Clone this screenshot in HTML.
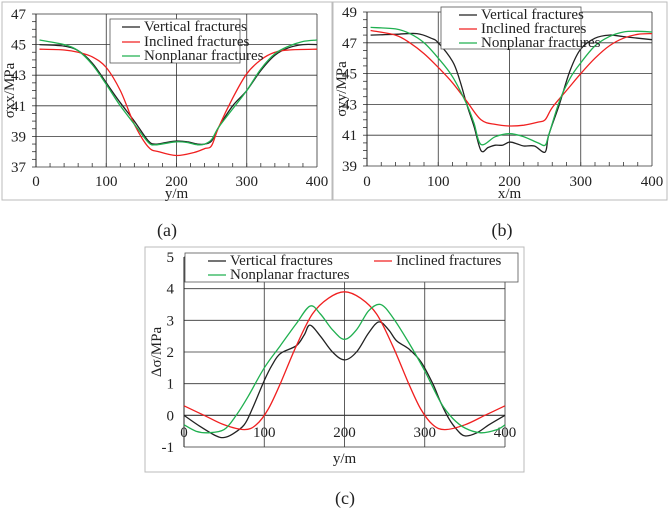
<!DOCTYPE html>
<html><head><meta charset="utf-8"><style>
html,body{margin:0;padding:0;background:#fff;}
svg, svg text{font-family:"Liberation Serif","DejaVu Serif",serif;}
svg text{fill:#222;}
</style></head><body>
<svg id="fig" width="669" height="509" viewBox="0 0 669 509" xmlns="http://www.w3.org/2000/svg" font-family="Liberation Serif, DejaVu Serif, serif">
<rect x="2" y="2" width="330" height="198" fill="#fff" stroke="#bbb"/>
<rect x="333" y="2" width="334" height="198" fill="#fff" stroke="#bbb"/>
<rect x="145" y="247" width="379" height="225" fill="#fff" stroke="#bbb"/>
<text x="167" y="236" font-size="18" text-anchor="middle">(a)</text>
<text x="502" y="236" font-size="18" text-anchor="middle">(b)</text>
<text x="345" y="504" font-size="18" text-anchor="middle">(c)</text>
</svg>
<script>
// Panel (a) data
const aX_black=[5,40,60,80,100,120,140,160,170,185,200,215,230,240,250,260,280,300,320,340,360,380,400];
const aY_black=[45.0,44.9,44.6,43.8,42.5,41.2,40.0,38.7,38.5,38.6,38.7,38.65,38.5,38.5,38.7,39.6,41.0,42.0,43.3,44.3,44.8,45.0,45.0];
const aX_red=[5,40,60,80,100,120,140,160,175,200,225,240,250,260,280,300,320,340,360,400];
const aY_red=[44.7,44.65,44.5,44.2,43.5,42.0,39.8,38.3,38.0,37.75,37.95,38.2,38.4,39.6,41.5,43.1,44.0,44.5,44.65,44.7];
const aX_green=[5,40,60,80,100,120,140,160,170,185,200,215,230,240,250,260,280,300,320,340,360,380,400];
const aY_green=[45.3,45.0,44.6,43.7,42.4,41.0,39.8,38.6,38.45,38.55,38.65,38.6,38.45,38.5,38.8,39.6,40.8,42.0,43.4,44.4,44.9,45.2,45.3];
const aYTicks=[37,39,41,43,45,47];
// Panel (b) data
const bX_black=[5,40,70,90,100,120,130,140,150,160,170,180,190,200,210,220,235,250,255,270,285,300,320,340,360,400];
const bY_black=[47.5,47.55,47.6,47.3,47.0,45.8,44.6,43.0,41.6,40.0,40.2,40.35,40.35,40.55,40.45,40.3,40.3,39.9,41.0,43.0,45.2,46.6,47.3,47.5,47.4,47.2];
const bX_red=[5,40,60,80,100,120,140,160,180,200,220,240,250,260,280,300,320,340,360,380,400];
const bY_red=[47.8,47.5,47.0,46.3,45.4,44.4,43.2,42.0,41.7,41.6,41.65,41.85,42.0,42.8,43.9,45.0,46.0,46.8,47.3,47.55,47.6];
const bX_green=[5,40,60,80,100,120,140,150,160,180,200,220,240,250,255,270,285,300,320,340,360,380,400];
const bY_green=[48.0,47.9,47.6,47.0,46.0,44.8,43.0,41.8,40.4,40.9,41.1,40.9,40.5,40.35,41.0,43.2,44.7,45.7,46.8,47.4,47.7,47.75,47.7];
const bYTicks=[39,41,43,45,47,49];
// Panel (c) data
const cX_black=[0,20,40,50,60,75,85,100,110,120,140,150,157,170,185,200,215,230,243,255,265,280,295,310,320,330,340,350,365,380,400];
const cY_black=[0,-0.35,-0.65,-0.7,-0.6,-0.3,0.2,1.1,1.6,1.95,2.2,2.55,2.85,2.5,2.0,1.75,2.0,2.6,2.95,2.7,2.35,2.1,1.7,1.0,0.4,-0.1,-0.45,-0.65,-0.55,-0.3,0.0];
const cX_red=[0,25,50,75,90,105,120,140,160,180,200,220,240,260,280,295,310,325,350,375,400];
const cY_red=[0.3,0.0,-0.3,-0.45,-0.3,0.2,1.0,2.2,3.2,3.7,3.9,3.7,3.2,2.2,1.0,0.2,-0.3,-0.45,-0.3,0.0,0.3];
const cX_green=[0,15,30,50,65,80,100,120,140,157,170,185,200,215,230,245,260,280,300,320,335,350,370,390,400];
const cY_green=[-0.3,-0.5,-0.55,-0.45,0.0,0.6,1.5,2.2,2.9,3.45,3.2,2.7,2.4,2.7,3.3,3.5,3.1,2.3,1.4,0.4,-0.1,-0.4,-0.55,-0.45,-0.3];
const cYTicks=[-1,0,1,2,3,4,5];
const xTicks=[0,100,200,300,400];
const legendLabels=["Vertical fractures","Inclined fractures","Nonplanar fractures"];

const NS="http://www.w3.org/2000/svg";
const svg=document.getElementById('fig');
function mk(tag,attrs){const e=document.createElementNS(NS,tag);for(const k in attrs)e.setAttribute(k,attrs[k]);svg.appendChild(e);return e;}
function smooth(pts){let d='M'+pts[0][0].toFixed(1)+','+pts[0][1].toFixed(1);
 for(let i=0;i<pts.length-1;i++){const p0=pts[Math.max(0,i-1)],p1=pts[i],p2=pts[i+1],p3=pts[Math.min(pts.length-1,i+2)];
  const c1=[p1[0]+(p2[0]-p0[0])/6,p1[1]+(p2[1]-p0[1])/6],c2=[p2[0]-(p3[0]-p1[0])/6,p2[1]-(p3[1]-p1[1])/6];
  d+=' C'+c1[0].toFixed(1)+','+c1[1].toFixed(1)+' '+c2[0].toFixed(1)+','+c2[1].toFixed(1)+' '+p2[0].toFixed(1)+','+p2[1].toFixed(1);}
 return d;}
function panel(p){
 const sx=v=>p.x0+(v/400)*(p.x1-p.x0);
 const sy=v=>p.y1-(v-p.ymin)/(p.ymax-p.ymin)*(p.y1-p.y0);
 p.yTicks.forEach(t=>{const y=sy(t);
  const g=mk('line',{x1:p.x0,x2:p.x1,y1:y,y2:y,stroke:'#333','stroke-width':t==0&&p.zeroBold?1.2:0.8});
  
  
  const tx=mk('text',{x:p.x0-10,y:y+5,'font-size':15,'text-anchor':'end'});tx.textContent=t;
  
  
 });
 if(p.minorY){for(let v=p.ymin;v<=p.ymax+1e-6;v+=0.5){const y=sy(v);mk('line',{x1:p.x0-4,x2:p.x0,y1:y,y2:y,stroke:'#333','stroke-width':0.8});}
  for(let v=20;v<400;v+=20){const x=sx(v);mk('line',{x1:x,x2:x,y1:p.y1,y2:p.y1-4,stroke:'#333','stroke-width':0.8});}}
 xTicks.forEach(t=>{const x=sx(t);
  const g=mk('line',{x1:x,x2:x,y1:p.y0,y2:p.y1,stroke:'#333','stroke-width':0.8});
  
  
  const tx=mk('text',{x:x,y:p.xLabY,'font-size':15,'text-anchor':'middle'});tx.textContent=t;
  
  
 });
 const ax=mk('line',{x1:p.x0,x2:p.x0,y1:p.y0,y2:p.y1,stroke:'#222','stroke-width':1});
 
 
 const xt=mk('text',{x:(p.x0+p.x1)/2,y:p.xTitleY,'font-size':15,'text-anchor':'middle'});xt.textContent=p.xTitle;
 
 
 const yt=mk('text',{x:0,y:0,'font-size':15,'text-anchor':'middle',transform:'translate('+p.yTitleX+','+((p.y0+p.y1)/2)+') rotate(-90)'});yt.textContent=p.yTitle;
 
 
 const cols=['#222','#f02020','#20b050'],names=['vertical','inclined','nonplanar'];
 p.series.forEach((s,i)=>{const pts=s[0].map((x,j)=>[sx(x),sy(s[1][j])]);
  const l=mk('path',{d:smooth(pts),fill:'none',stroke:cols[i],'stroke-width':1.3});
  
  
 });
 const lg=mk('rect',{x:p.lg[0],y:p.lg[1],width:p.lg[2],height:p.lg[3],fill:'#fff',stroke:'#555','stroke-width':0.8});
 
 
 p.lgPos.forEach((q,i)=>{mk('line',{x1:q[0],x2:q[0]+18,y1:q[1]-4,y2:q[1]-4,stroke:cols[i],'stroke-width':1.3});
  const t=mk('text',{x:q[0]+22,y:q[1],'font-size':15});t.textContent=legendLabels[i];
  
  
 });
}
panel({id:'a',x0:36,x1:317,y0:14,y1:167,ymin:37,ymax:47,yTicks:aYTicks,minorY:true,xLabY:186,xTitleY:198,xTitle:'y/m',yTitle:'σxx/MPa',yTitleX:14,
 series:[[aX_black,aY_black],[aX_red,aY_red],[aX_green,aY_green]],lg:[110,19,130,44],lgPos:[[122,31],[122,46],[122,60]]});
panel({id:'b',x0:367,x1:652,y0:12,y1:166,ymin:39,ymax:49,yTicks:bYTicks,minorY:true,xLabY:186,xTitleY:198,xTitle:'x/m',yTitle:'σyy/MPa',yTitleX:346,
 series:[[bX_black,bY_black],[bX_red,bY_red],[bX_green,bY_green]],lg:[441,7,140,42],lgPos:[[459,19],[459,33],[459,47]]});
panel({id:'c',x0:184,x1:505,y0:257,y1:447,ymin:-1,ymax:5,yTicks:cYTicks,minorY:false,zeroBold:true,xLabY:437,xTitleY:463,xTitle:'y/m',yTitle:'Δσ/MPa',yTitleX:161,
 series:[[cX_black,cY_black],[cX_red,cY_red],[cX_green,cY_green]],lg:[185,253,333,29],lgPos:[[208,265],[374,265],[208,279]]});
</script>
</body></html>
